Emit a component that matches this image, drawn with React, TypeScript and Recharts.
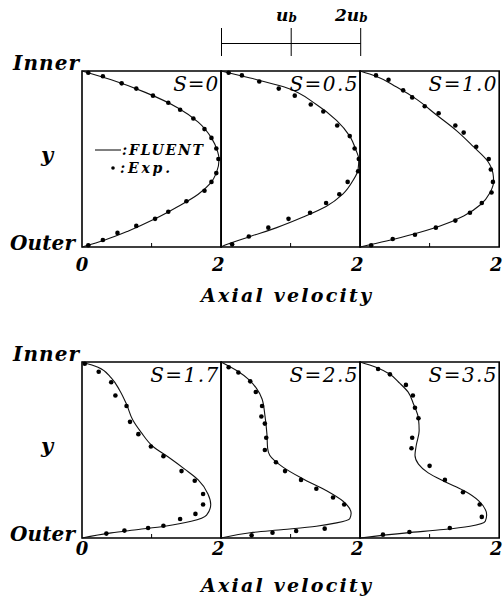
import React from "react";
import { ComposedChart, Line, Scatter, XAxis, YAxis, ReferenceArea } from "recharts";

// [axial velocity / u_b, y] pairs, listed from the inner wall (y = 1) to the outer wall (y = 0)
type Pt = [number, number];

const FLUENT_S0: Pt[] = [
  [0, 1], [0.42, 0.95], [0.9, 0.88], [1.38, 0.79], [1.67, 0.71], [1.86, 0.62], [1.95, 0.54],
  [1.97, 0.5], [1.93, 0.42], [1.84, 0.36], [1.67, 0.3], [1.38, 0.23], [1.05, 0.16], [0.66, 0.09],
  [0.33, 0.04], [0, 0],
];
const EXP_S0: Pt[] = [
  [0.09, 0.99], [0.3, 0.97], [0.57, 0.93], [0.78, 0.9], [1.02, 0.86], [1.24, 0.82], [1.41, 0.78],
  [1.6, 0.73], [1.76, 0.67], [1.86, 0.62], [1.93, 0.56], [1.96, 0.5], [1.93, 0.42], [1.86, 0.37],
  [1.76, 0.32], [1.5, 0.26], [1.24, 0.2], [1.05, 0.16], [0.78, 0.12], [0.51, 0.08], [0.3, 0.04],
  [0.09, 0.01],
];

const FLUENT_S05: Pt[] = [
  [0, 1], [0.42, 0.96], [0.9, 0.91], [1.37, 0.81], [1.66, 0.72], [1.85, 0.63], [1.94, 0.55],
  [1.98, 0.5], [1.97, 0.44], [1.9, 0.38], [1.75, 0.3], [1.51, 0.23], [1.18, 0.17], [0.8, 0.11],
  [0.42, 0.06], [0.09, 0.015], [0, 0],
];
const EXP_S05: Pt[] = [
  [0.11, 0.99], [0.3, 0.975], [0.55, 0.94], [0.83, 0.9], [1.06, 0.86], [1.29, 0.81], [1.47, 0.77],
  [1.67, 0.69], [1.85, 0.63], [1.92, 0.56], [1.98, 0.5], [1.97, 0.43], [1.82, 0.37], [1.7, 0.3],
  [1.51, 0.25], [1.28, 0.195], [0.97, 0.16], [0.68, 0.11], [0.4, 0.06], [0.16, 0.015],
];

const FLUENT_S10: Pt[] = [
  [0, 1], [0.23, 0.97], [0.52, 0.91], [0.81, 0.84], [1.1, 0.75], [1.39, 0.66], [1.63, 0.57],
  [1.83, 0.49], [1.91, 0.42], [1.92, 0.375], [1.87, 0.31], [1.73, 0.24], [1.49, 0.176],
  [1.15, 0.119], [0.76, 0.072], [0.38, 0.034], [0, 0],
];
const EXP_S10: Pt[] = [
  [0.23, 0.975], [0.41, 0.95], [0.62, 0.89], [0.75, 0.85], [0.93, 0.8], [1.13, 0.76], [1.37, 0.69],
  [1.49, 0.65], [1.67, 0.57], [1.85, 0.5], [1.88, 0.44], [1.91, 0.37], [1.89, 0.31], [1.75, 0.25],
  [1.58, 0.195], [1.37, 0.15], [1.09, 0.11], [0.79, 0.07], [0.47, 0.045], [0.16, 0.01],
];

const FLUENT_S17: Pt[] = [
  [0, 1], [0.23, 0.97], [0.42, 0.91], [0.54, 0.84], [0.64, 0.76], [0.73, 0.67], [0.85, 0.6],
  [1.02, 0.52], [1.24, 0.46], [1.48, 0.39], [1.67, 0.33], [1.81, 0.25], [1.85, 0.19], [1.79, 0.13],
  [1.57, 0.095], [1.19, 0.067], [0.81, 0.048], [0.42, 0.029], [0, 0],
];
const EXP_S17: Pt[] = [
  [0.04, 0.99], [0.24, 0.945], [0.42, 0.885], [0.48, 0.81], [0.64, 0.75], [0.69, 0.66], [0.81, 0.59],
  [0.99, 0.52], [1.17, 0.465], [1.43, 0.38], [1.62, 0.325], [1.74, 0.25], [1.74, 0.19], [1.63, 0.137],
  [1.41, 0.108], [1.17, 0.07], [0.95, 0.057], [0.61, 0.042], [0.35, 0.025],
];

const FLUENT_S25: Pt[] = [
  [0, 1], [0.23, 0.95], [0.4, 0.9], [0.51, 0.85], [0.59, 0.79], [0.63, 0.7], [0.66, 0.59],
  [0.67, 0.51], [0.7, 0.47], [0.9, 0.4], [1.16, 0.34], [1.51, 0.27], [1.75, 0.21], [1.87, 0.14],
  [1.85, 0.11], [1.66, 0.086], [1.37, 0.067], [0.9, 0.048], [0.42, 0.03], [0, 0],
];
const EXP_S25: Pt[] = [
  [0.11, 0.97], [0.25, 0.94], [0.42, 0.89], [0.5, 0.83], [0.59, 0.75], [0.58, 0.69], [0.63, 0.65],
  [0.65, 0.57], [0.63, 0.5], [0.79, 0.43], [0.92, 0.38], [1.15, 0.33], [1.37, 0.28], [1.61, 0.23],
  [1.77, 0.19], [1.49, 0.053], [1.08, 0.04], [0.74, 0.03], [0.44, 0.015],
];

const FLUENT_S35: Pt[] = [
  [0, 1], [0.23, 0.97], [0.43, 0.93], [0.57, 0.88], [0.69, 0.83], [0.77, 0.76], [0.84, 0.68],
  [0.85, 0.61], [0.81, 0.53], [0.79, 0.47], [0.84, 0.42], [0.98, 0.37], [1.22, 0.32], [1.49, 0.27],
  [1.71, 0.21], [1.82, 0.13], [1.8, 0.095], [1.58, 0.067], [1.2, 0.048], [0.67, 0.029], [0, 0],
];
const EXP_S35: Pt[] = [
  [0.26, 0.96], [0.43, 0.93], [0.66, 0.87], [0.76, 0.81], [0.79, 0.74], [0.84, 0.68], [0.75, 0.57],
  [0.74, 0.51], [1.0, 0.41], [1.22, 0.33], [1.48, 0.26], [1.72, 0.19], [1.75, 0.12], [1.29, 0.057],
  [0.71, 0.034], [0.33, 0.019],
];

const SWIRL_LABELS = ["S=0", "S=0.5", "S=1.0", "S=1.7", "S=2.5", "S=3.5"];

const toRows = (pts: Pt[]) => pts.map(([u, y]) => ({ u, y }));

// layout (page pixels)
const PANEL_LEFT = 82;
const PANEL_W = 139.2;
const PANEL_H = 176;
const ROW_TOPS = [71, 361.5];
const PAD = 10;
const AXIS_H = 30;

const SERIF = "'DejaVu Serif', serif";

function VelocityTick(props: any) {
  const { x, y, payload, labelDy } = props;
  const v = payload.value;
  if (v === 1) {
    return <line x1={x} x2={x} y1={y} y2={y - 4} stroke="#000" strokeWidth={1} />;
  }
  // italic digits sit a little left of the panel edge
  const dx = v === 2 ? -3 : 0;
  return (
    <text
      x={x + dx}
      y={y + labelDy}
      textAnchor="middle"
      fontFamily={SERIF}
      fontStyle="italic"
      fontWeight="bold"
      fontSize={18}
      fill="#000"
    >
      {v}
    </text>
  );
}

function MidTick(props: any) {
  const { x, y } = props;
  return <line x1={x - 4} x2={x + 4} y1={y} y2={y} stroke="#000" strokeWidth={1} />;
}

function Panel({
  col,
  row,
  fluent,
  exp,
}: {
  col: number;
  row: number;
  fluent: Pt[];
  exp: Pt[];
}) {
  const left = PANEL_LEFT + col * PANEL_W;
  const top = ROW_TOPS[row];
  const labelDy = row === 0 ? 24 : 17;
  return (
    <div style={{ position: "absolute", left: left - PAD, top: top - PAD }}>
      <ComposedChart
        layout="vertical"
        width={PANEL_W + PAD * 2}
        height={PANEL_H + PAD + AXIS_H}
        margin={{ top: PAD, right: PAD, bottom: 0, left: PAD }}
      >
        <XAxis
          type="number"
          dataKey="u"
          domain={[0, 2]}
          ticks={col === 0 ? [0, 1, 2] : [1, 2]}
          interval={0}
          height={AXIS_H}
          axisLine={false}
          tickLine={false}
          tickSize={0}
          tickMargin={0}
          tick={<VelocityTick labelDy={labelDy} />}
        />
        {/* inner wall (y = 1) on top */}
        <YAxis
          type="number"
          dataKey="y"
          domain={[0, 1]}
          reversed
          ticks={[0.5]}
          width={0}
          axisLine={false}
          tickLine={false}
          tickSize={0}
          tickMargin={0}
          tick={<MidTick />}
        />
        <ReferenceArea
          x1={0}
          x2={2}
          y1={0}
          y2={1}
          fill="none"
          fillOpacity={0}
          stroke="#000"
          strokeWidth={1.6}
          ifOverflow="visible"
        />
        <Line
          data={toRows(fluent)}
          dataKey="u"
          type="monotone"
          stroke="#111"
          strokeWidth={1.1}
          dot={false}
          activeDot={false}
          isAnimationActive={false}
        />
        <Scatter
          data={toRows(exp)}
          fill="#000"
          isAnimationActive={false}
          shape={(p: any) => <circle cx={p.cx} cy={p.cy} r={2.3} fill="#000" />}
        />
      </ComposedChart>
    </div>
  );
}

const PANELS: { fluent: Pt[]; exp: Pt[] }[] = [
  { fluent: FLUENT_S0, exp: EXP_S0 },
  { fluent: FLUENT_S05, exp: EXP_S05 },
  { fluent: FLUENT_S10, exp: EXP_S10 },
  { fluent: FLUENT_S17, exp: EXP_S17 },
  { fluent: FLUENT_S25, exp: EXP_S25 },
  { fluent: FLUENT_S35, exp: EXP_S35 },
];

function Label({ x, y, w, size, bold, anchor, children }: any) {
  return (
    <text
      x={x}
      y={y}
      textLength={w}
      lengthAdjust="spacing"
      textAnchor={anchor || "start"}
      fontFamily={SERIF}
      fontStyle="italic"
      fontWeight={bold ? "bold" : "normal"}
      fontSize={size}
      fill="#000"
    >
      {children}
    </text>
  );
}

export default function App() {
  const rowShift = ROW_TOPS[1] - ROW_TOPS[0];
  return (
    <div style={{ position: "absolute", left: 0, top: 0, width: 504, height: 602, background: "#fff" }}>
      {PANELS.map((p, i) => (
        <Panel key={i} col={i % 3} row={Math.floor(i / 3)} fluent={p.fluent} exp={p.exp} />
      ))}
      <svg
        width={504}
        height={602}
        style={{ position: "absolute", left: 0, top: 0, pointerEvents: "none" }}
      >
        {/* velocity scale bar */}
        <g stroke="#000" strokeWidth={1}>
          <line x1={221.5} x2={360.7} y1={43.5} y2={43.5} />
          <line x1={221.5} x2={221.5} y1={28} y2={56} />
          <line x1={291.2} x2={291.2} y1={28} y2={56} />
          <line x1={360.7} x2={360.7} y1={28} y2={56} />
        </g>
        <text x={276} y={21} fontFamily={SERIF} fontStyle="italic" fontWeight="bold" fontSize={17}>
          u<tspan fontSize={12} dy={1}>b</tspan>
        </text>
        <text x={335} y={21} fontFamily={SERIF} fontStyle="italic" fontWeight="bold" fontSize={17}>
          2u<tspan fontSize={12} dy={1}>b</tspan>
        </text>

        {[0, 1].map((r) => {
          const dy = r * rowShift;
          return (
            <g key={r}>
              <Label x={13} y={70 + dy} w={66} size={20} bold>
                Inner
              </Label>
              <Label x={47} y={162 + dy} size={21} bold anchor="middle">
                y
              </Label>
              <Label x={10} y={250 + dy} w={65} size={20} bold>
                Outer
              </Label>
              <Label x={201} y={r === 0 ? 302 : 592} w={170} size={19} bold>
                Axial velocity
              </Label>
            </g>
          );
        })}

        {SWIRL_LABELS.map((s, i) => {
          const col = i % 3;
          const row = Math.floor(i / 3);
          const right = PANEL_LEFT + (col + 1) * PANEL_W - 3;
          const w = s.length === 3 ? 45 : 68;
          return (
            <Label key={s} x={right - w} y={ROW_TOPS[row] + 20} w={w} size={20}>
              {s}
            </Label>
          );
        })}

        {/* legend */}
        <line x1={95} x2={121} y1={150} y2={150} stroke="#000" strokeWidth={1} />
        <Label x={122} y={155} w={81} size={14} bold>
          :FLUENT
        </Label>
        <circle cx={113} cy={168} r={1.8} fill="#000" />
        <Label x={120} y={173} w={50} size={14} bold>
          :Exp.
        </Label>
      </svg>
    </div>
  );
}
